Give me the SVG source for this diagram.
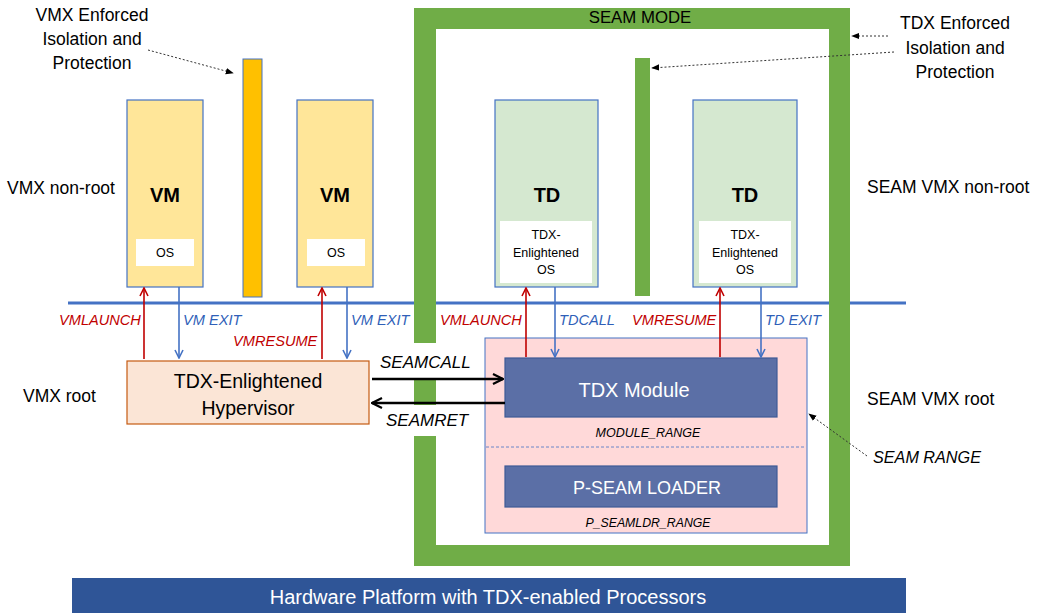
<svg xmlns="http://www.w3.org/2000/svg" width="1039" height="615" viewBox="0 0 1039 615">
<style>
text{font-family:"Liberation Sans",Arial,sans-serif;fill:#000}
.lbl{font-size:17.5px}
.it{font-style:italic}
.red{fill:#c00000;font-size:14.6px;font-style:italic}
.blu{fill:#2f5fb8;font-size:14.6px;font-style:italic}
.vm{fill:#ffe699;stroke:#4472c4;stroke-width:1.2}
.td{fill:#d5e8d0;stroke:#4472c4;stroke-width:1.2}
.wb{fill:#fff}
.big{font-size:20px;font-weight:bold}
.mod{fill:#5b6fa6;stroke:#3e5a96;stroke-width:1.2}
.ra{stroke:#c00000;stroke-width:1.6;fill:none;marker-end:url(#mr)}
.ba{stroke:#4472c4;stroke-width:1.6;fill:none;marker-end:url(#mb)}
.ka{stroke:#000;stroke-width:2.5;fill:none;marker-end:url(#mk)}
.dot{stroke:#333;stroke-width:1;stroke-dasharray:2 2;fill:none;marker-end:url(#md)}
</style>
<defs>
<marker id="mr" viewBox="0 0 10 10" refX="9" refY="5" markerWidth="10" markerHeight="10" markerUnits="userSpaceOnUse" orient="auto"><path d="M1,1 L9,5 L1,9" fill="none" stroke="#c00000" stroke-width="1.6"/></marker>
<marker id="mb" viewBox="0 0 10 10" refX="9" refY="5" markerWidth="10" markerHeight="10" markerUnits="userSpaceOnUse" orient="auto"><path d="M1,1 L9,5 L1,9" fill="none" stroke="#4472c4" stroke-width="1.6"/></marker>
<marker id="mk" viewBox="0 0 12 12" refX="11" refY="6" markerWidth="12" markerHeight="12" markerUnits="userSpaceOnUse" orient="auto"><path d="M1,1 L11,6 L1,11" fill="none" stroke="#000" stroke-width="2.2"/></marker>
<marker id="md" viewBox="0 0 10 10" refX="9" refY="5" markerWidth="8" markerHeight="8" markerUnits="userSpaceOnUse" orient="auto"><path d="M0,1 L10,5 L0,9 Z" fill="#000"/></marker>
</defs>

<g id="labels">
<text class="lbl" x="92" y="21" text-anchor="middle">VMX Enforced</text>
<text class="lbl" x="92" y="45" text-anchor="middle">Isolation and</text>
<text class="lbl" x="92" y="69" text-anchor="middle">Protection</text>
<text class="lbl" x="955" y="29" text-anchor="middle">TDX Enforced</text>
<text class="lbl" x="955" y="54" text-anchor="middle">Isolation and</text>
<text class="lbl" x="955" y="78" text-anchor="middle">Protection</text>
<text class="lbl" x="7" y="194">VMX non-root</text>
<text class="lbl" x="23" y="402">VMX root</text>
<text class="lbl" x="867" y="193">SEAM VMX non-root</text>
<text class="lbl" x="867" y="405">SEAM VMX root</text>
<text class="it" x="873" y="463" font-size="16.2">SEAM RANGE</text>
</g>

<line x1="68" y1="303" x2="906" y2="303" stroke="#4472c4" stroke-width="3"/>

<g id="seam-mode">
<path d="M414,8 H850 V566 H414 Z M436,29 V545 H829 V29 Z" fill="#70ad47" fill-rule="evenodd"/>
<text x="640" y="23" text-anchor="middle" font-size="16.8">SEAM MODE</text>
</g>

<g id="vmx-barrier"><rect x="243" y="59" width="19" height="238" fill="#ffc000" stroke="#4472c4" stroke-width="1"/></g>
<g id="tdx-barrier"><rect x="635" y="58" width="15" height="238" fill="#70ad47"/></g>

<g id="vm1">
<rect class="vm" x="127" y="100" width="76" height="187"/>
<text class="big" x="165" y="202" text-anchor="middle">VM</text>
<rect class="wb" x="136" y="239" width="58" height="27"/>
<text x="165" y="257" text-anchor="middle" font-size="12.5">OS</text>
</g>
<g id="vm2">
<rect class="vm" x="297" y="100" width="76" height="187"/>
<text class="big" x="335" y="202" text-anchor="middle">VM</text>
<rect class="wb" x="307" y="239" width="58" height="27"/>
<text x="336" y="257" text-anchor="middle" font-size="12.5">OS</text>
</g>

<g id="td1">
<rect class="td" x="495" y="100" width="103" height="187"/>
<text class="big" x="547" y="202" text-anchor="middle">TD</text>
<rect class="wb" x="500" y="221" width="92" height="62"/>
<text x="546" y="239" text-anchor="middle" font-size="12.5">TDX-</text>
<text x="546" y="257" text-anchor="middle" font-size="12.5">Enlightened</text>
<text x="546" y="274" text-anchor="middle" font-size="12.5">OS</text>
</g>
<g id="td2">
<rect class="td" x="693" y="100" width="104" height="187"/>
<text class="big" x="745" y="202" text-anchor="middle">TD</text>
<rect class="wb" x="699" y="221" width="92" height="62"/>
<text x="745" y="239" text-anchor="middle" font-size="12.5">TDX-</text>
<text x="745" y="257" text-anchor="middle" font-size="12.5">Enlightened</text>
<text x="745" y="274" text-anchor="middle" font-size="12.5">OS</text>
</g>

<g id="hypervisor">
<rect x="127" y="361" width="242" height="63" fill="#fbe5d6" stroke="#c55a11" stroke-width="1.2"/>
<text x="248" y="388" text-anchor="middle" font-size="19.5">TDX-Enlightened</text>
<text x="248" y="415" text-anchor="middle" font-size="19.5">Hypervisor</text>
</g>

<g id="seam-range">
<rect x="485" y="338" width="322" height="195" fill="#ffd9d9" stroke="#4472c4" stroke-width="1"/>
<line x1="486" y1="447" x2="805" y2="447" stroke="#4472c4" stroke-width="0.8" stroke-dasharray="3 2"/>
<text class="it" x="648" y="437" text-anchor="middle" font-size="12.5">MODULE_RANGE</text>
<text class="it" x="648" y="527" text-anchor="middle" font-size="12.3">P_SEAMLDR_RANGE</text>
</g>
<g id="tdx-module">
<rect class="mod" x="505" y="358" width="272" height="59"/>
<text x="634" y="397" text-anchor="middle" font-size="20" style="fill:#fff">TDX Module</text>
</g>
<g id="pseam-loader">
<rect class="mod" x="505" y="466" width="272" height="41"/>
<text x="647" y="494" text-anchor="middle" font-size="18" style="fill:#fff">P-SEAM LOADER</text>
</g>

<g id="hardware">
<rect x="72" y="578" width="834" height="35" fill="#2f5597"/>
<text x="488" y="604" text-anchor="middle" font-size="20" style="fill:#fff">Hardware Platform with TDX-enabled Processors</text>
</g>

<rect x="412" y="343" width="26" height="35" fill="#fff"/>
<rect x="412" y="405" width="26" height="31" fill="#fff"/>

<g id="connectors">
<line class="ra" x1="144" y1="359" x2="144" y2="288"/>
<line class="ba" x1="179" y1="287" x2="179" y2="358"/>
<line class="ra" x1="322" y1="359" x2="322" y2="288"/>
<line class="ba" x1="347" y1="287" x2="347" y2="358"/>
<line class="ra" x1="526" y1="357" x2="526" y2="288"/>
<line class="ba" x1="555" y1="287" x2="555" y2="357"/>
<line class="ra" x1="720" y1="357" x2="720" y2="288"/>
<line class="ba" x1="761" y1="287" x2="761" y2="357"/>
<line class="ka" x1="372" y1="379" x2="503" y2="379"/>
<line class="ka" x1="505" y1="403" x2="372" y2="403"/>
<line class="dot" x1="148" y1="50" x2="233" y2="73"/>
<line class="dot" x1="888" y1="36" x2="852" y2="36"/>
<line class="dot" x1="894" y1="52" x2="652" y2="68"/>
<line class="dot" x1="867" y1="456" x2="809" y2="414"/>
<text class="red" x="59" y="325">VMLAUNCH</text>
<text class="blu" x="183" y="325">VM EXIT</text>
<text class="red" x="233" y="346">VMRESUME</text>
<text class="blu" x="351" y="325">VM EXIT</text>
<text class="red" x="440" y="325">VMLAUNCH</text>
<text class="blu" x="559" y="325">TDCALL</text>
<text class="red" x="632" y="325">VMRESUME</text>
<text class="blu" x="765" y="325">TD EXIT</text>
<text class="it" x="380" y="368" font-size="17">SEAMCALL</text>
<text class="it" x="386" y="426" font-size="17">SEAMRET</text>
</g>
</svg>
